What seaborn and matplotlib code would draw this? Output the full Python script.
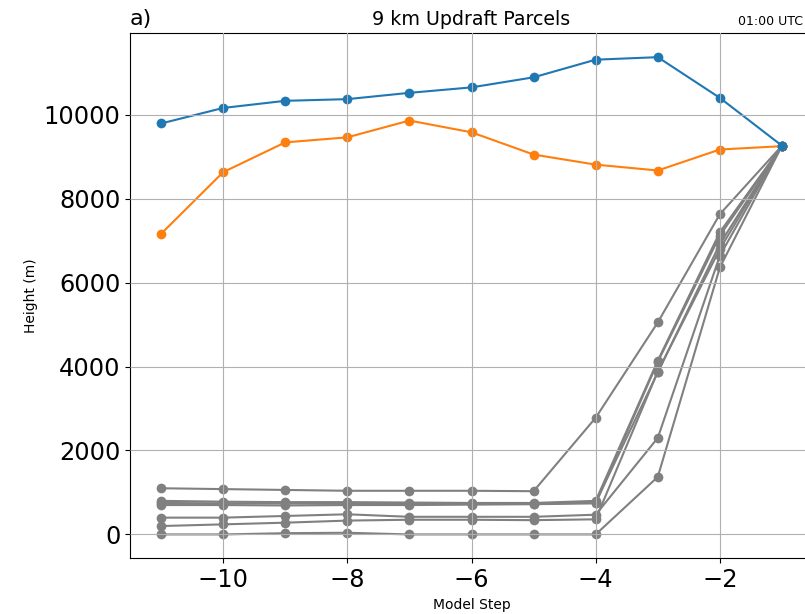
import numpy as np
import pandas as pd
import matplotlib
matplotlib.use("Agg")
import matplotlib.pyplot as plt
import seaborn as sns

# ---------------- data ----------------
steps = [-11, -10, -9, -8, -7, -6, -5, -4, -3, -2, -1]

blue_parcel = [9790, 10160, 10330, 10370, 10520, 10650, 10890, 11310, 11370, 10400, 9260]
orange_parcel = [7160, 8630, 9340, 9460, 9860, 9580, 9050, 8810, 8670, 9170, 9250]

gray_a = [1100, 1080, 1060, 1040, 1040, 1040, 1030, 2780, 5050, 7630, 9260]
gray_b = [800, 780, 770, 770, 760, 750, 750, 800, 4140, 7200, 9260]
gray_c = [750, 740, 740, 730, 730, 730, 730, 760, 3860, 6920, 9260]
gray_d = [700, 700, 690, 700, 700, 710, 720, 740, 4110, 7120, 9260]
gray_e = [400, 400, 440, 480, 420, 420, 420, 470, 2300, 6640, 9260]
gray_f = [200, 240, 280, 330, 350, 350, 340, 360, 3880, 6800, 9260]
gray_g = [0, 0, 30, 40, 0, 0, 0, 0, 1370, 6360, 9260]
gray_parcels = [gray_a, gray_b, gray_c, gray_d, gray_e, gray_f, gray_g]

title_text = "9 km Updraft Parcels"
panel_text = "a)"
time_text = "01:00 UTC"
xlabel_text = "Model Step"
ylabel_text = "Height (m)"

# ---------------- figure ----------------
plt.rcParams['font.family'] = ['DejaVu Sans']

fig = plt.figure(figsize=(8.05, 6.14), dpi=100)
ax = fig.add_axes([130 / 805, (614 - 558.3) / 614, (813 - 130) / 805, (558.3 - 33.3) / 614])

rows = []
for i, vals in enumerate(gray_parcels):
    for s, v in zip(steps, vals):
        rows.append({"step": s, "height": v, "parcel": i})
gray_df = pd.DataFrame(rows)

line_kw = dict(marker="o", markersize=7, markeredgewidth=0, linewidth=1.5)

sns.lineplot(data=gray_df, x="step", y="height", units="parcel", estimator=None,
             color="#808080", sort=False, ax=ax, legend=False, **line_kw)
sns.lineplot(x=steps, y=orange_parcel, color="#ff7f0e", ax=ax, legend=False, **line_kw)
sns.lineplot(x=steps, y=blue_parcel, color="#1f77b4", ax=ax, legend=False, **line_kw)

ax.grid(True, color="#b0b0b0", linewidth=0.8)
ax.set_axisbelow(False)

ax.set_xticks([-10, -8, -6, -4, -2])
ax.set_yticks([0, 2000, 4000, 6000, 8000, 10000])
ax.tick_params(axis="both", labelsize=17.4)

ax.set_xlabel(xlabel_text, fontsize=10)
ax.set_ylabel(ylabel_text, fontsize=10)
ax.set_title(title_text, fontsize=13.7)
ax.set_title(panel_text, loc="left", fontsize=16)
# time stamp kept fully inside the picture, right-aligned at its edge
fig.text(803 / 805, (614 - 25) / 614, time_text, ha="right", va="baseline", fontsize=9)

fig.savefig("out.png", dpi=100)
